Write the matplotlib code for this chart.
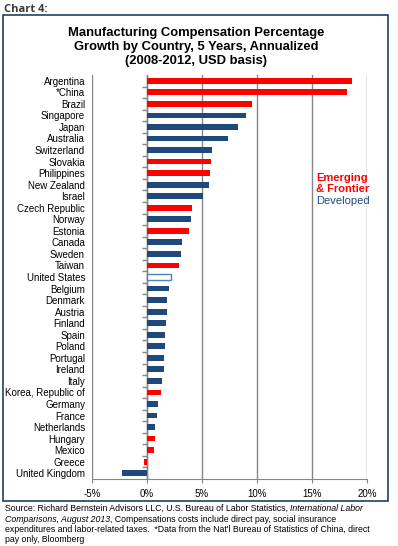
import matplotlib
matplotlib.use("Agg")
import matplotlib.pyplot as plt
from matplotlib.patches import Rectangle

plt.rcParams["font.family"] = ["Liberation Sans", "DejaVu Sans"]

countries = [
    "Argentina", "*China", "Brazil", "Singapore", "Japan", "Australia",
    "Switzerland", "Slovakia", "Philippines", "New Zealand", "Israel",
    "Czech Republic", "Norway", "Estonia", "Canada", "Sweden", "Taiwan",
    "United States", "Belgium", "Denmark", "Austria", "Finland", "Spain",
    "Poland", "Portugal", "Ireland", "Italy", "Korea, Republic of",
    "Germany", "France", "Netherlands", "Hungary", "Mexico", "Greece",
    "United Kingdom",
]
growth = [
    18.6, 18.2, 9.5, 9.0, 8.3, 7.4,
    5.9, 5.8, 5.7, 5.6, 5.1,
    4.1, 4.0, 3.8, 3.2, 3.1, 2.9,
    2.2, 2.0, 1.8, 1.8, 1.7, 1.6,
    1.6, 1.5, 1.5, 1.4, 1.3,
    1.0, 0.9, 0.7, 0.7, 0.6, -0.25,
    -2.3,
]
group = [
    "E", "E", "E", "D", "D", "D",
    "D", "E", "E", "D", "D",
    "E", "D", "E", "D", "D", "E",
    "US", "D", "D", "D", "D", "D",
    "D", "D", "D", "D", "E",
    "D", "D", "D", "E", "E", "E",
    "D",
]
xticks = [-5, 0, 5, 10, 15, 20]

RED = "#ff0000"
NAVY = "#1f497d"
GRID = "#868686"

W, H = 398, 546
fig = plt.figure(figsize=(W / 100, H / 100), dpi=100)

# chart frame
fig.patches.append(Rectangle((3 / W, 1 - 501 / H), 385 / W, 486 / H,
                             transform=fig.transFigure, fill=False,
                             edgecolor="#243f60", linewidth=1.2))
fig.text(4 / W, 1 - 9 / H, "Chart 4:", fontsize=8, fontweight="bold",
         color="#3a3a3a", va="center", ha="left",
         family=["Open Sans", "DejaVu Sans"])
fig.text(196 / W, 1 - 47 / H,
         "Manufacturing Compensation Percentage\n"
         "Growth by Country, 5 Years, Annualized\n"
         "(2008-2012, USD basis)",
         fontsize=9.4, fontweight="bold", ha="center", va="center",
         linespacing=1.22, color="black")

ax = fig.add_axes([92 / W, 1 - 479 / H, 275 / W, 404 / H])
n = len(countries)
ypos = list(range(n))

for y, v, g in zip(ypos, growth, group):
    if g == "US":
        ax.barh(y, v, height=0.5, color="white", edgecolor="#4f81bd",
                linewidth=1, zorder=3)
    else:
        ax.barh(y, v, height=0.5, color=RED if g == "E" else NAVY, zorder=3)

ax.set_ylim(n - 0.5, -0.5)
ax.set_xlim(-5, 20)
ax.set_xticks(xticks)
ax.set_xticklabels([f"{t}%" for t in xticks], fontsize=7)
ax.set_yticks(ypos)
ax.set_yticklabels(countries, fontsize=7)
ax.tick_params(axis="y", length=0, pad=5)
ax.tick_params(axis="x", length=3, color=GRID, pad=4)

ax.grid(axis="x", color=GRID, linewidth=1, zorder=0)
for s in ["top", "right", "left"]:
    ax.spines[s].set_visible(False)
ax.spines["bottom"].set_color(GRID)

# category axis at 0% with ticks between categories
ax.axvline(0, color=GRID, linewidth=1, zorder=2)
ax.hlines([i - 0.5 for i in range(1, n)], -0.45, 0, color=GRID,
          linewidth=1, zorder=2)

ax.text(15.4, 8.9, "Emerging\n& Frontier", color=RED, fontsize=8,
        fontweight="bold", va="center", ha="left", linespacing=1.15,
        zorder=4)
ax.text(15.4, 10.42, "Developed", color=NAVY, fontsize=8,
        va="center", ha="left", zorder=4)

# source note with italic parts
fs = 6.3
t1 = fig.text(5 / W, 1 - 513 / H,
              "Source: Richard Bernstein Advisors LLC, U.S. Bureau of Labor Statistics, ",
              fontsize=fs, va="bottom", ha="left")
ax.annotate("International Labor", xy=(1, 0), xycoords=t1, fontsize=fs,
            style="italic", va="bottom", ha="left", annotation_clip=False)
t2 = fig.text(5 / W, 1 - 523.5 / H, "Comparisons, August 2013",
              fontsize=fs, style="italic", va="bottom", ha="left")
ax.annotate(", Compensations costs include direct pay, social insurance",
            xy=(1, 0), xycoords=t2, fontsize=fs, va="bottom", ha="left",
            annotation_clip=False)
fig.text(5 / W, 1 - 534 / H,
         "expenditures and labor-related taxes.  *Data from the Nat'l Bureau of Statistics of China, direct",
         fontsize=fs, va="bottom", ha="left")
fig.text(5 / W, 1 - 544.5 / H, "pay only, Bloomberg",
         fontsize=fs, va="bottom", ha="left")

fig.savefig("out.png", dpi=100)
